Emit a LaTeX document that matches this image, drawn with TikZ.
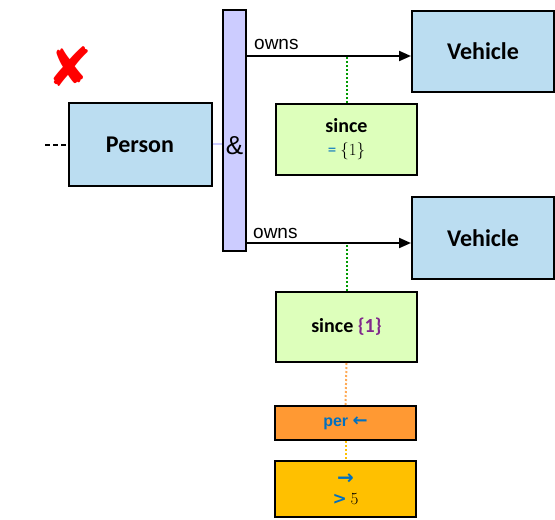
\documentclass[tikz,border=0pt]{standalone}
\usepackage{fontspec}
\setmainfont{Carlito}
\newfontfamily\arialf{Liberation Sans}
\newfontfamily\dejavu{DejaVu Sans}
\newfontfamily\lmrom{Latin Modern Roman}
\usetikzlibrary{arrows.meta,calc}
\definecolor{vblue}{RGB}{187,221,241}
\definecolor{barpurple}{RGB}{204,204,255}
\definecolor{lgreen}{RGB}{221,255,187}
\definecolor{porange}{RGB}{255,153,51}
\definecolor{cyellow}{RGB}{255,192,0}
\definecolor{tblue}{RGB}{0,112,192}
\definecolor{tpurple}{RGB}{128,40,140}
\definecolor{dgreen}{RGB}{0,153,0}
\definecolor{dorange}{RGB}{255,170,85}
\begin{document}
\begin{tikzpicture}[x=1pt,y=-1pt,
  box/.style={draw=black,line width=2pt,inner sep=0pt,align=center},
  arr/.style={-{Triangle[length=12pt,width=10pt]},line width=2pt},
  dotl/.style={line width=2pt,dash pattern=on 2pt off 2pt},
  big/.style={font=\bfseries\fontsize{24}{28}\selectfont},
  lbl/.style={font=\arialf\fontsize{19}{22}\selectfont,inner sep=0pt,anchor=base west}]
\useasboundingbox (0,0) rectangle (555,520);
% red mark
\node[text=red,font=\dejavu\fontsize{54}{56}\selectfont,inner sep=0pt] (xmark) at (70,67) {✘};
% boxes
\node[box,fill=vblue,minimum width=143,minimum height=83,big] (person) at (140,144.5) {Person};
\node[box,fill=barpurple,minimum width=23,minimum height=241] (bar) at (234.5,130.5) {};
\node[inner sep=0pt,font=\arialf\fontsize{26}{30}\selectfont] (amp) at (234.5,146) {\&};
\node[box,fill=vblue,minimum width=142,minimum height=81,big] (veh1) at (483,51.5) {Vehicle};
\node[box,fill=vblue,minimum width=142,minimum height=82,big] (veh2) at (483,238) {Vehicle};
\node[box,fill=lgreen,minimum width=141,minimum height=71] (since1) at (346.5,139.5)
  {{\bfseries\fontsize{20}{22}\selectfont since}\\[9pt]{\fontsize{17}{20}\selectfont\textcolor{tblue}{=} {\lmrom\{1\}}}};
\node[box,fill=lgreen,minimum width=141,minimum height=70,font=\bfseries\fontsize{20}{22}\selectfont] (since2) at (346.5,327)
  {since \textcolor{tpurple}{\{1\}}};
\node[box,fill=porange,minimum width=141,minimum height=34,text=tblue,font=\arialf\bfseries\fontsize{16}{18}\selectfont] (per) at (345.5,423)
  {per {\dejavu\bfseries\fontsize{18}{18}\selectfont ←}};
\node[box,fill=cyellow,minimum width=141,minimum height=56] (cond) at (345.5,489)
  {{\dejavu\bfseries\fontsize{20}{20}\selectfont\textcolor{tblue}{→}}\\[8pt]{\fontsize{17}{20}\selectfont\textcolor{tblue}{\dejavu\bfseries >} {\lmrom 5}}};
% connectors
\coordinate (dl) at (45,145);
\draw[line width=1.5pt,dash pattern=on 5pt off 3pt] (dl) -- (dl -| person.west);
\coordinate (pl) at (211,144);
\draw[barpurple,line width=1.5pt] (person.east |- pl) -- (bar.west |- pl);
\coordinate (a1) at ($(bar.north east)+(0,47)$);
\coordinate (a2) at ($(bar.north east)+(0,234)$);
\draw[dgreen,dotl] (since1.north) -- (since1.north |- a1);
\draw[dgreen,dotl] (since2.north) -- (since2.north |- a2);
\draw[dorange,dotl] (since2.south) -- (per.north);
\draw[cyellow,dotl] (per.south) -- (cond.north);
\draw[arr] (a1) -- (a1 -| veh1.west) ;
\draw[arr] (a2) -- (a2 -| veh2.west);
\node[lbl] (own1) at (254,49) {owns};
\node[lbl] (own2) at (253,238) {owns};
\end{tikzpicture}
\end{document}
